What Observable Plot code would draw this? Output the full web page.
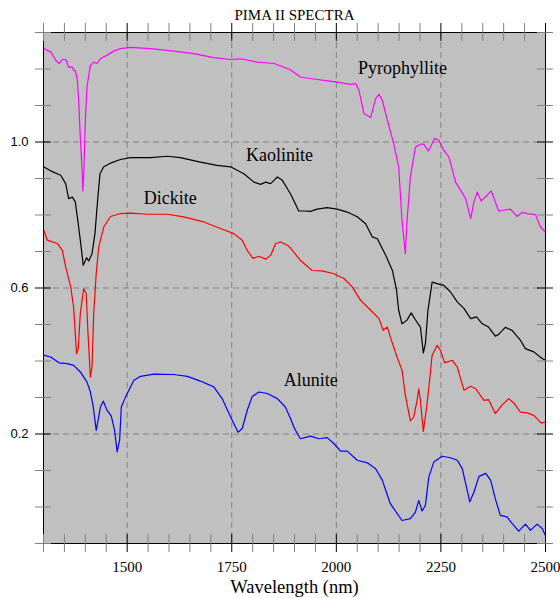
<!DOCTYPE html>
<html><head><meta charset="utf-8">
<script src="https://cdn.jsdelivr.net/npm/d3@7"></script>
<script src="https://cdn.jsdelivr.net/npm/@observablehq/plot@0.6"></script>
<style>body{margin:0;background:#fff}</style>
</head><body><div id="chart"></div>
<script>
const title = "PIMA II SPECTRA";
const xLabel = "Wavelength (nm)";

const pyrophylliteWl = [1301,1317,1329,1337,1345,1353,1360,1369,1372,1376,1381,1384,1388,1393,1394,1396,1400,1404,1412,1420,1428,1436,1452,1468,1484,1508,1556,1611,1659,1707,1747,1771,1811,1851,1890,1914,1938,1970,2002,2034,2046,2054,2066,2082,2094,2102,2110,2122,2137,2149,2157,2165,2169,2177,2189,2201,2209,2220,2225,2235,2245,2257,2269,2285,2297,2309,2321,2329,2337,2346,2359,2370,2380,2388,2400,2416,2432,2444,2456,2476,2488,2500];
const pyrophylliteR = [1.256,1.247,1.224,1.215,1.226,1.226,1.205,1.205,1.196,1.196,1.169,1.114,1.014,0.904,0.866,0.904,1.059,1.151,1.210,1.219,1.215,1.228,1.238,1.249,1.256,1.259,1.256,1.249,1.242,1.231,1.226,1.228,1.219,1.215,1.198,1.178,1.174,1.169,1.164,1.158,1.160,1.142,1.078,1.067,1.119,1.131,1.114,1.059,0.996,0.932,0.785,0.694,0.785,0.904,0.986,0.994,0.994,0.975,0.986,1.010,1.005,0.977,0.959,0.890,0.868,0.845,0.790,0.836,0.863,0.838,0.852,0.866,0.836,0.811,0.813,0.816,0.796,0.807,0.804,0.801,0.767,0.753];

const kaoliniteWl = [1300,1317,1341,1353,1360,1369,1376,1382,1388,1395,1403,1408,1416,1423,1428,1435,1444,1460,1484,1508,1556,1596,1627,1675,1715,1747,1779,1803,1819,1831,1843,1851,1859,1871,1883,1890,1902,1910,1926,1938,1954,1978,2002,2026,2050,2070,2086,2098,2118,2134,2144,2149,2157,2169,2179,2189,2201,2208,2213,2219,2229,2241,2257,2273,2289,2305,2321,2335,2349,2364,2380,2388,2404,2420,2440,2452,2472,2492,2500];
const kaoliniteR = [0.932,0.921,0.909,0.886,0.845,0.849,0.836,0.785,0.731,0.662,0.683,0.674,0.694,0.749,0.822,0.913,0.932,0.942,0.952,0.957,0.957,0.961,0.957,0.945,0.936,0.932,0.913,0.890,0.884,0.890,0.886,0.895,0.904,0.895,0.872,0.859,0.831,0.811,0.811,0.810,0.816,0.820,0.816,0.808,0.795,0.776,0.740,0.735,0.690,0.648,0.594,0.539,0.502,0.512,0.532,0.513,0.493,0.422,0.448,0.539,0.616,0.612,0.607,0.589,0.562,0.544,0.516,0.521,0.502,0.493,0.468,0.473,0.492,0.484,0.457,0.434,0.425,0.407,0.402];

const dickiteWl = [1301,1309,1333,1345,1353,1365,1372,1379,1383,1388,1396,1402,1406,1412,1416,1420,1426,1432,1444,1460,1484,1508,1548,1596,1635,1683,1723,1755,1775,1787,1801,1815,1831,1843,1855,1867,1883,1890,1914,1942,1966,1994,2018,2038,2058,2082,2102,2112,2122,2129,2145,2157,2165,2177,2185,2193,2197,2201,2208,2216,2223,2229,2241,2249,2259,2277,2289,2305,2321,2333,2353,2364,2380,2396,2412,2424,2440,2456,2472,2490,2500];
const dickiteR = [0.758,0.731,0.722,0.703,0.658,0.603,0.548,0.420,0.434,0.530,0.598,0.585,0.484,0.356,0.384,0.530,0.639,0.712,0.767,0.796,0.804,0.805,0.802,0.802,0.795,0.781,0.763,0.749,0.731,0.703,0.681,0.687,0.679,0.690,0.722,0.726,0.717,0.710,0.676,0.648,0.647,0.639,0.626,0.603,0.566,0.539,0.516,0.484,0.493,0.466,0.411,0.375,0.306,0.236,0.247,0.292,0.324,0.292,0.207,0.274,0.347,0.416,0.443,0.429,0.395,0.402,0.384,0.320,0.331,0.324,0.292,0.294,0.256,0.279,0.297,0.285,0.260,0.258,0.251,0.230,0.233];

const aluniteWl = [1300,1317,1337,1357,1372,1388,1404,1412,1419,1426,1432,1436,1443,1451,1462,1470,1476,1482,1486,1496,1504,1516,1532,1564,1611,1644,1675,1707,1727,1747,1765,1775,1787,1799,1815,1835,1859,1878,1890,1900,1914,1938,1958,1978,1994,2010,2026,2050,2074,2094,2110,2129,2157,2177,2189,2197,2205,2213,2221,2233,2253,2273,2289,2301,2311,2319,2329,2341,2357,2369,2380,2392,2408,2420,2436,2452,2464,2480,2492,2500];
const aluniteR = [0.416,0.411,0.395,0.393,0.388,0.370,0.342,0.315,0.274,0.210,0.247,0.274,0.290,0.267,0.249,0.210,0.151,0.183,0.274,0.301,0.320,0.347,0.358,0.364,0.363,0.358,0.345,0.329,0.297,0.247,0.205,0.215,0.265,0.303,0.315,0.311,0.297,0.274,0.244,0.215,0.187,0.194,0.187,0.190,0.174,0.153,0.153,0.128,0.121,0.105,0.073,0.009,-0.037,-0.032,-0.014,0.018,-0.011,0.005,0.082,0.123,0.139,0.135,0.128,0.105,0.055,0.014,0.041,0.084,0.092,0.073,0.023,-0.023,-0.027,-0.045,-0.066,-0.047,-0.064,-0.047,-0.059,-0.078];

const seriesNames = ["Pyrophyllite","Kaolinite","Dickite","Alunite"];
const seriesColors = ["#ff00ff","#000000","#ff0000","#0000ff"];
const labelWl = [2158, 1864, 1603, 1939];
const labelR = [1.202, 0.964, 0.846, 0.347];

const xTickValues = [1300,1350,1400,1450,1500,1550,1600,1650,1700,1750,1800,1850,1900,1950,2000,2050,2100,2150,2200,2250,2300,2350,2400,2450,2500];
const xMajor = [1500,1750,2000,2250,2500];
const yTickValues = [-0.1,0.0,0.1,0.2,0.3,0.4,0.5,0.6,0.7,0.8,0.9,1.0,1.1,1.2,1.3];
const yMajor = [0.2,0.6,1.0];
const xGrid = [1500,1750,2000,2250];

const allWl = [pyrophylliteWl, kaoliniteWl, dickiteWl, aluniteWl];
const allR = [pyrophylliteR, kaoliniteR, dickiteR, aluniteR];
const rows = [];
seriesNames.forEach((name, s) => {
  allWl[s].forEach((w, i) => rows.push({name, wl: w, r: allR[s][i]}));
});
const labels = seriesNames.map((name, i) => ({name, wl: labelWl[i], r: labelR[i]}));

const xMinor = xTickValues.filter(d => !xMajor.includes(d));
const yMinor = yTickValues.filter(d => !yMajor.includes(d));
const X0 = 1300, X1 = 2500, Y0 = -0.1, Y1 = 1.3;
const serif = "'Liberation Serif', 'Times New Roman', serif";
const sans = "'Liberation Sans', Arial, sans-serif";

const chart = Plot.plot({
  width: 560, height: 598,
  marginLeft: 43, marginRight: 15, marginTop: 32, marginBottom: 55,
  x: {domain: [X0, X1], axis: null},
  y: {domain: [Y0, Y1], axis: null},
  color: {domain: seriesNames, range: seriesColors},
  style: {background: "#fff", overflow: "visible"},
  marks: [
    Plot.frame({fill: "#c0c0c0"}),
    Plot.ruleX(xGrid, {x: d => d, stroke: "#808080", strokeDasharray: "6,4"}),
    Plot.ruleY(yMajor, {y: d => d, stroke: "#808080", strokeDasharray: "6,4"}),
    Plot.line(rows, {x: "wl", y: "r", z: "name", stroke: "name", strokeWidth: 1.2}),
    Plot.frame({stroke: "#000"}),
    Plot.ruleX(xMinor, {x: d => d, y1: Y0, y2: Y0, insetTop: -9, insetBottom: -9, stroke: "#808080"}),
    Plot.ruleX(xMinor, {x: d => d, y1: Y1, y2: Y1, insetTop: -9, insetBottom: -9, stroke: "#808080"}),
    Plot.ruleX(xMajor, {x: d => d, y1: Y0, y2: Y0, insetTop: -9, insetBottom: -9, stroke: "#000"}),
    Plot.ruleX(xMajor, {x: d => d, y1: Y1, y2: Y1, insetTop: -9, insetBottom: -9, stroke: "#000"}),
    Plot.ruleY(yMinor, {y: d => d, x1: X0, x2: X0, insetLeft: -8, insetRight: -8, stroke: "#808080"}),
    Plot.ruleY(yMinor, {y: d => d, x1: X1, x2: X1, insetLeft: -8, insetRight: -8, stroke: "#808080"}),
    Plot.ruleY(yMajor, {y: d => d, x1: X0, x2: X0, insetLeft: -8, insetRight: -8, stroke: "#000"}),
    Plot.ruleY(yMajor, {y: d => d, x1: X1, x2: X1, insetLeft: -8, insetRight: -8, stroke: "#000"}),
    Plot.text(xMajor, {x: d => d, frameAnchor: "bottom", lineAnchor: "middle", dy: 23.5, text: d => String(d), fontSize: 15, fontFamily: serif, fill: "#000"}),
    Plot.text(yMajor, {y: d => d, frameAnchor: "left", lineAnchor: "middle", dx: -15, textAnchor: "end", text: d => d.toFixed(1), fontSize: 13, fontFamily: sans, fill: "#000"}),
    Plot.text([title], {frameAnchor: "top", lineAnchor: "middle", dy: -17.5, text: d => d, fontSize: 15, fontFamily: serif, fill: "#000"}),
    Plot.text([xLabel], {frameAnchor: "bottom", lineAnchor: "middle", dy: 44, text: d => d, fontSize: 18.5, fontFamily: serif, fill: "#000"}),
    Plot.text(labels, {x: "wl", y: "r", text: "name", lineAnchor: "middle", fontSize: 18, fontFamily: serif, fill: "#000"})
  ]
});
document.getElementById("chart").appendChild(chart);
</script>
</body></html>
